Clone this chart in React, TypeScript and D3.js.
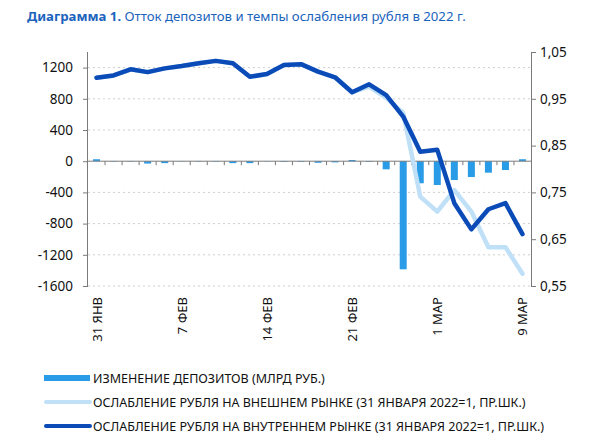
import React, { useEffect, useRef } from 'react';
import * as d3 from 'd3';

// trading days, 31 Jan - 9 Mar 2022
const categories = [
  '31.01', '01.02', '02.02', '03.02', '04.02',
  '07.02', '08.02', '09.02', '10.02', '11.02',
  '14.02', '15.02', '16.02', '17.02', '18.02',
  '21.02', '22.02', '24.02', '25.02', '28.02',
  '01.03', '02.03', '03.03', '04.03', '05.03', '09.03',
];

// deposit change, bn rub (left axis)
const deposits = [
  25, -5, -5, -30, -25,
  -3, -5, -5, -25, -25,
  -3, -8, -8, -20, -15,
  15, -8, -104, -1386, -283,
  -305, -241, -203, -147, -113, 25,
];

// rouble weakening, internal market (right axis)
const internalRate = [
  0.995, 1.0, 1.013, 1.007, 1.015,
  1.02, 1.026, 1.031, 1.026, 0.997,
  1.003, 1.022, 1.024, 1.008, 0.996,
  0.964, 0.981, 0.958, 0.912, 0.837,
  0.841, 0.727, 0.671, 0.714, 0.727, 0.661,
];

// rouble weakening, external market (right axis)
const externalRate = [
  0.995, 1.0, 1.013, 1.007, 1.015,
  1.02, 1.026, 1.031, 1.026, 0.997,
  1.003, 1.022, 1.024, 1.008, 0.996,
  0.964, 0.976, 0.952, 0.92, 0.741,
  0.709, 0.755, 0.709, 0.633, 0.633, 0.576,
];

const xTickLabels: [number, string][] = [
  [0, '31 ЯНВ'], [5, '7 ФЕВ'], [10, '14 ФЕВ'], [15, '21 ФЕВ'], [20, '1 МАР'], [25, '9 МАР'],
];
const leftTicks = [-1600, -1200, -800, -400, 0, 400, 800, 1200];
const rightTicks = [0.55, 0.65, 0.75, 0.85, 0.95, 1.05];

const legendItems = [
  'ИЗМЕНЕНИЕ ДЕПОЗИТОВ (МЛРД РУБ.)',
  'ОСЛАБЛЕНИЕ РУБЛЯ НА ВНЕШНЕМ РЫНКЕ (31 ЯНВАРЯ 2022=1, ПР.ШК.)',
  'ОСЛАБЛЕНИЕ РУБЛЯ НА ВНУТРЕННЕМ РЫНКЕ (31 ЯНВАРЯ 2022=1, ПР.ШК.)',
];

const BAR = '#2a9be6';
const LIGHT = '#bfe0f7';
const DARK = '#0a4bb8';
const AXIS = '#7a7a7a';
const FONT = '"Noto Sans", sans-serif';

export default function App() {
  const ref = useRef<SVGSVGElement>(null);

  useEffect(() => {
    const svg = d3.select(ref.current);
    svg.selectAll('*').remove();

    const left = 88, right = 531, top = 52, bottom = 286;

    const x = d3.scaleBand<number>()
      .domain(d3.range(categories.length))
      .range([left, right])
      .padding(0);
    const yL = d3.scaleLinear().domain([-1600, 1400]).range([bottom, top]);
    const yR = d3.scaleLinear().domain([0.55, 1.05]).range([bottom, top]);
    const cx = (i: number) => (x(i) as number) + x.bandwidth() / 2;

    // Title
    const title = svg.append('text')
      .attr('x', 27).attr('y', 21)
      .style('font-family', FONT).style('font-size', '13.2px')
      .attr('fill', '#1b63bd');
    title.append('tspan').attr('font-weight', 700).text('Диаграмма 1.');
    title.append('tspan').text(' Отток депозитов и темпы ослабления рубля в 2022 г.');

    // gridlines
    svg.append('g').selectAll('line')
      .data(leftTicks.filter(d => d !== 0))
      .enter().append('line')
      .attr('x1', left).attr('x2', right)
      .attr('y1', d => yL(d)).attr('y2', d => yL(d))
      .attr('stroke', '#cfcfcf').attr('stroke-dasharray', '2,3');

    // bars
    const barW = 7;
    svg.append('g').selectAll('rect')
      .data(deposits)
      .enter().append('rect')
      .attr('x', (d, i) => cx(i) - barW / 2)
      .attr('width', barW)
      .attr('y', d => yL(Math.max(0, d)))
      .attr('height', d => Math.abs(yL(d) - yL(0)))
      .attr('fill', BAR);

    // zero axis with ticks between categories
    const zeroY = yL(0);
    svg.append('line')
      .attr('x1', left).attr('x2', right)
      .attr('y1', zeroY).attr('y2', zeroY)
      .attr('stroke', AXIS).attr('stroke-width', 1);
    svg.append('g').selectAll('line')
      .data(d3.range(1, categories.length))
      .enter().append('line')
      .attr('x1', i => x(i) as number).attr('x2', i => x(i) as number)
      .attr('y1', zeroY).attr('y2', zeroY + 4)
      .attr('stroke', AXIS);

    // lines
    const line = (vals: number[]) => d3.line<number>()
      .x((d, i) => cx(i))
      .y(d => yR(d))(vals);

    svg.append('path')
      .attr('d', line(externalRate))
      .attr('fill', 'none').attr('stroke', LIGHT).attr('stroke-width', 4.5)
      .attr('stroke-linejoin', 'round').attr('stroke-linecap', 'round');
    svg.append('path')
      .attr('d', line(internalRate))
      .attr('fill', 'none').attr('stroke', DARK).attr('stroke-width', 4.5)
      .attr('stroke-linejoin', 'round').attr('stroke-linecap', 'round');

    // left axis
    const gL = svg.append('g').attr('transform', `translate(${left},0)`)
      .call(d3.axisLeft(yL).tickValues(leftTicks).tickSize(5).tickPadding(10).tickFormat(d3.format('d')));
    gL.select('.domain').attr('stroke', AXIS).attr('d', `M-0.5,${top}V${bottom}`);
    gL.selectAll('line').attr('stroke', AXIS);
    gL.selectAll('text')
      .style('font-family', FONT).style('font-size', '13.5px').attr('fill', '#111')
      .text(d => String(d).replace('−', '-'));

    // right axis
    const gR = svg.append('g').attr('transform', `translate(${right},0)`)
      .call(d3.axisRight(yR).tickValues(rightTicks).tickSize(5).tickPadding(4)
        .tickFormat(d => d3.format('.2f')(d as number).replace('.', ',')));
    gR.select('.domain').attr('stroke', AXIS).attr('d', `M0.5,${top}V${bottom}`);
    gR.selectAll('line').attr('stroke', AXIS);
    gR.selectAll('text')
      .style('font-family', FONT).style('font-size', '13.5px').attr('fill', '#111');

    // x labels (rotated)
    svg.append('g').selectAll('text')
      .data(xTickLabels)
      .enter().append('text')
      .attr('transform', d => `translate(${cx(d[0]) + 5},${bottom + 11}) rotate(-90)`)
      .attr('text-anchor', 'end')
      .style('font-family', FONT).style('font-size', '13px').attr('fill', '#111')
      .text(d => d[1]);

    // legend
    const lg = svg.append('g').attr('transform', 'translate(44,378)');
    legendItems.forEach((label, i) => {
      const yy = i * 24;
      if (i === 0) {
        lg.append('rect').attr('x', 0).attr('y', yy - 3).attr('width', 46).attr('height', 6).attr('fill', BAR);
      } else {
        lg.append('line').attr('x1', 2).attr('x2', 46).attr('y1', yy).attr('y2', yy)
          .attr('stroke', i === 1 ? LIGHT : DARK).attr('stroke-width', 4).attr('stroke-linecap', 'round');
      }
      lg.append('text').attr('x', 49).attr('y', yy + 5)
        .style('font-family', FONT).style('font-size', '12.5px').attr('fill', '#111')
        .text(label);
    });
  }, []);

  return (
    <svg ref={ref} width={600} height={438}
      style={{ position: 'absolute', left: 0, top: 0, background: '#fff' }} />
  );
}
